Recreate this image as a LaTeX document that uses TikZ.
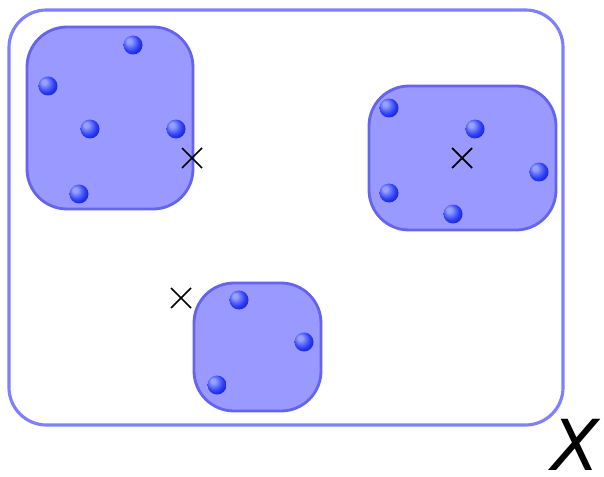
\documentclass[tikz,border=0pt]{standalone}
\usepackage{fontspec}
\usepackage{tikz}
\usetikzlibrary{positioning, calc, shadings}
\newfontfamily\labelfont{DejaVu Sans}
\definecolor{setblue}{RGB}{128,128,255}
\definecolor{clusterfill}{RGB}{153,153,255}
\definecolor{clusterline}{RGB}{100,100,240}
\definecolor{beadhi}{RGB}{150,160,255}
\definecolor{beadmid}{RGB}{45,65,245}
\definecolor{beadrim}{RGB}{0,0,195}
\pgfdeclareradialshading{bead}{\pgfqpoint{-12bp}{12bp}}{%
  color(0bp)=(beadhi); color(6bp)=(beadhi); color(22bp)=(beadmid);
  color(40bp)=(beadrim); color(50bp)=(beadrim)}

\begin{document}
\begin{tikzpicture}[x=0.02cm, y=-0.02cm,
    cluster/.style={fill=clusterfill, draw=clusterline, line width=1.6pt, rounded corners=0.8cm},
    centroid/.style={black, line width=1pt},
    every node/.style={inner sep=0pt}]
    \useasboundingbox (0,0) rectangle (604,476);

    % The whole space
    \draw[setblue, line width=1.8pt, rounded corners=0.75cm] (9,10) rectangle (563,425);

    % Clusters
    \draw[cluster] (27,27) rectangle (193,209);
    \draw[cluster] (369,86) rectangle (556,230);
    \draw[cluster] (194,283) rectangle (321,411);

    % Data points
    \foreach \x/\y in {133/45, 48/86, 90/129, 176/129, 79/194,
                       389/108, 475/129, 389/193, 453/214, 539/172,
                       239/300, 304/342, 217/385} {
      \shade[shading=bead] (\x,\y) circle (0.19cm);
    }

    % Centres
    \foreach \x/\y in {192/158, 462/158, 181/298} {
      \draw[centroid] (\x-10,\y-10) -- (\x+10,\y+10);
      \draw[centroid] (\x-10,\y+10) -- (\x+10,\y-10);
    }

    % Label
    \node (xlabel) at (576,445) {\fontsize{40}{40}\selectfont\labelfont\itshape X};
\end{tikzpicture}
\end{document}
